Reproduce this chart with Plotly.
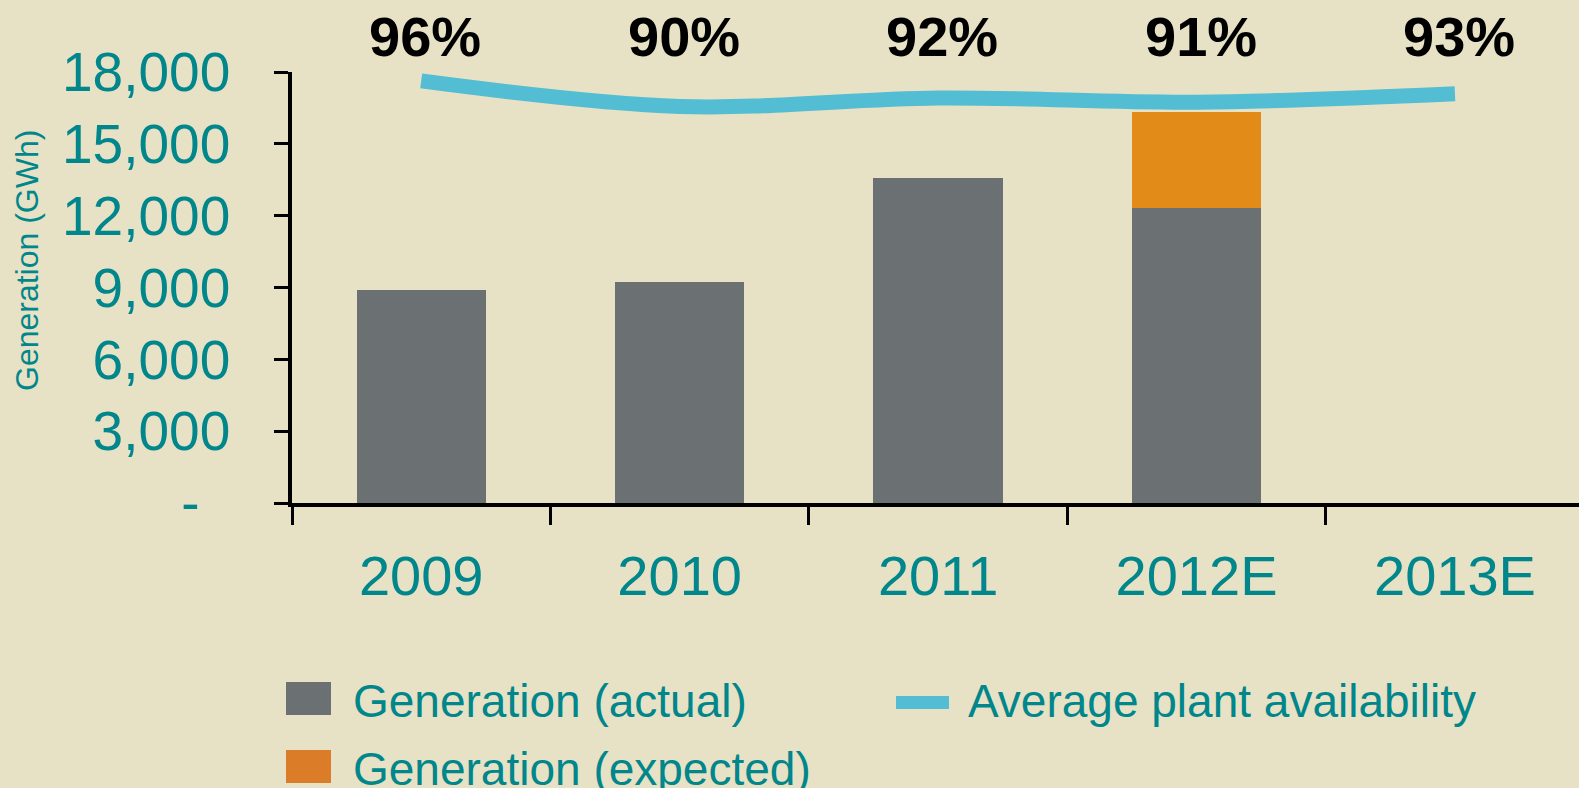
import plotly.graph_objects as go

# --- data ---
years = ["2009", "2010", "2011", "2012E", "2013E"]
gen_actual = [8900, 9250, 13580, 12300, None]
gen_expected = [None, None, None, 4050, None]
availability = [96, 90, 92, 91, 93]
y_tick_vals = [0, 3000, 6000, 9000, 12000, 15000, 18000]
y_tick_text = ["-\u00a0\u00a0", "3,000", "6,000", "9,000", "12,000", "15,000", "18,000"]

# --- styling ---
BG = "#E7E2C5"
GREY = "#6B7073"
ORANGE = "#E28B19"
ORANGE_LEG = "#DB7C28"
BLUE = "#52BDD3"
TEAL = "#00868B"
FONT = "Arial, Liberation Sans, sans-serif"

W, H = 1579, 788
L, T, B = 292, 72, 285
PW, PH = W - L, H - T - B


def px_x(px):
    return (px - L) / PW


def px_y(py):
    return (H - B - py) / PH


fig = go.Figure()
fig.add_trace(go.Bar(x=years, y=gen_actual, marker_color=GREY, marker_line_width=0,
                     name="Generation (actual)", showlegend=False))
fig.add_trace(go.Bar(x=years, y=gen_expected, marker_color=ORANGE, marker_line_width=0,
                     name="Generation (expected)", showlegend=False))
fig.add_trace(go.Scatter(x=years, y=availability, yaxis="y2", mode="lines",
                         line=dict(color=BLUE, width=15, shape="spline", smoothing=1),
                         name="Average plant availability", showlegend=False))

# percentage labels above the line (x given as category index)
for i, v in enumerate(availability):
    fig.add_annotation(x=i, y=px_y(37), xref="x", yref="paper", xshift=4,
                       text=f"<b>{v}%</b>", showarrow=False,
                       font=dict(size=56, color="black", family=FONT),
                       xanchor="center", yanchor="middle")

# y axis title
fig.add_annotation(x=px_x(27), y=px_y(261), xref="paper", yref="paper",
                   text="Generation (GWh)", textangle=-90, showarrow=False,
                   font=dict(size=32, color=TEAL, family=FONT),
                   xanchor="center", yanchor="middle")

# legend drawn by hand (big square swatches)
legend_items = [
    (GREY, 286, 682, 331, 715, 351, 701, "Generation (actual)"),
    (ORANGE_LEG, 286, 750, 331, 783, 351, 769, "Generation (expected)"),
    (BLUE, 896, 696, 949, 709, 966, 701, "Average plant availability"),
]
for col, x0, y0, x1, y1, tx, ty, label in legend_items:
    fig.add_shape(type="rect", xref="paper", yref="paper",
                  x0=px_x(x0), x1=px_x(x1), y0=px_y(y1), y1=px_y(y0),
                  fillcolor=col, line_width=0)
    fig.add_annotation(x=px_x(tx), y=px_y(ty), xref="paper", yref="paper",
                       text=label, showarrow=False, xanchor="left", yanchor="middle",
                       font=dict(size=46, color=TEAL, family=FONT))

fig.update_layout(
    width=W, height=H,
    margin=dict(l=L, r=0, t=T, b=B),
    paper_bgcolor=BG, plot_bgcolor=BG,
    barmode="stack", bargap=0.5,
    showlegend=False,
    font=dict(family=FONT, color=TEAL),
    xaxis=dict(type="category", range=[-0.5, 4.48], showline=True, linecolor="black",
               linewidth=3.5, ticks="outside", tickson="boundaries", ticklen=18,
               tickwidth=3, tickcolor="black", showgrid=False, ticklabelstandoff=21,
               tickfont=dict(size=56, color=TEAL, family=FONT)),
    yaxis=dict(range=[0, 18000], tickvals=y_tick_vals, ticktext=y_tick_text,
               showline=True, linecolor="black", linewidth=3.5,
               ticks="outside", ticklen=14, tickwidth=3, tickcolor="black",
               showgrid=False, zeroline=False, ticklabelstandoff=33,
               tickfont=dict(size=55, color=TEAL, family=FONT)),
    yaxis2=dict(overlaying="y", range=[-3.3, 98.1], visible=False),
)

fig.write_html("out.html", config={"displayModeBar": False},
               post_script="document.body.style.margin='0';")
